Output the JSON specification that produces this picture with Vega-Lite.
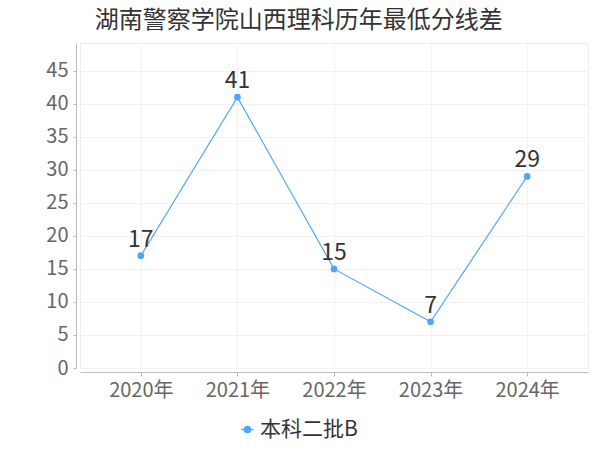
{
  "$schema": "https://vega.github.io/schema/vega-lite/v6.json",
  "autosize": {"type": "none"},
  "width": 508,
  "height": 325,
  "padding": {"left": 80, "top": 43, "right": 12, "bottom": 82},
  "title": {
    "text": "湖南警察学院山西理科历年最低分线差",
    "anchor": "start",
    "dx": 49,
    "offset": 10,
    "font": "Noto Sans CJK SC",
    "fontSize": 24,
    "fontWeight": "normal",
    "color": "#333333"
  },
  "config": {
    "font": "Noto Sans CJK SC",
    "view": {"stroke": "#eeeeee"},
    "axis": {
      "labelFont": "Noto Sans CJK SC",
      "labelFontSize": 20,
      "labelColor": "#666666",
      "domainColor": "#bbbbbb",
      "tickColor": "#bbbbbb",
      "gridColor": "#f2f2f2",
      "title": null
    },
    "legend": {
      "labelFont": "Noto Sans CJK SC",
      "labelFontSize": 21,
      "labelColor": "#333333"
    }
  },
  "data": {
    "values": [
      {"year": "2020年", "value": 17, "series": "本科二批B"},
      {"year": "2021年", "value": 41, "series": "本科二批B"},
      {"year": "2022年", "value": 15, "series": "本科二批B"},
      {"year": "2023年", "value": 7, "series": "本科二批B"},
      {"year": "2024年", "value": 29, "series": "本科二批B"}
    ]
  },
  "encoding": {
    "x": {
      "field": "year",
      "type": "ordinal",
      "scale": {"type": "point", "padding": 0.63},
      "axis": {"labelAngle": 0, "offset": 4, "tickSize": 4, "labelPadding": 4, "grid": true}
    },
    "y": {
      "field": "value",
      "type": "quantitative",
      "scale": {"domain": [0, 49.2], "nice": false},
      "axis": {"values": [0, 5, 10, 15, 20, 25, 30, 35, 40, 45], "offset": 4, "tickSize": 3, "labelPadding": 5, "grid": true}
    }
  },
  "layer": [
    {
      "mark": {"type": "line", "color": "#4da6ff", "strokeWidth": 1.2},
      "encoding": {}
    },
    {
      "mark": {"type": "point", "filled": true, "opacity": 1, "size": 45},
      "encoding": {
        "color": {
          "field": "series",
          "type": "nominal",
          "scale": {"range": ["#4da6ff"]},
          "legend": {
            "title": null,
            "orient": "none",
            "legendX": 157,
            "legendY": 376,
            "symbolType": "M-1,0L-0.5,0M0.5,0L1,0M-0.5,0A0.5,0.5 0 1,1 0.5,0A0.5,0.5 0 1,1 -0.5,0Z",
            "symbolSize": 150,
            "symbolStrokeWidth": 1.5,
            "symbolStrokeColor": "#4da6ff",
            "symbolFillColor": "#4da6ff",
            "labelOffset": 2
          }
        }
      }
    },
    {
      "mark": {"type": "text", "fontSize": 23, "color": "#333333", "baseline": "bottom", "dy": -4},
      "encoding": {"text": {"field": "value", "type": "quantitative"}}
    }
  ]
}
